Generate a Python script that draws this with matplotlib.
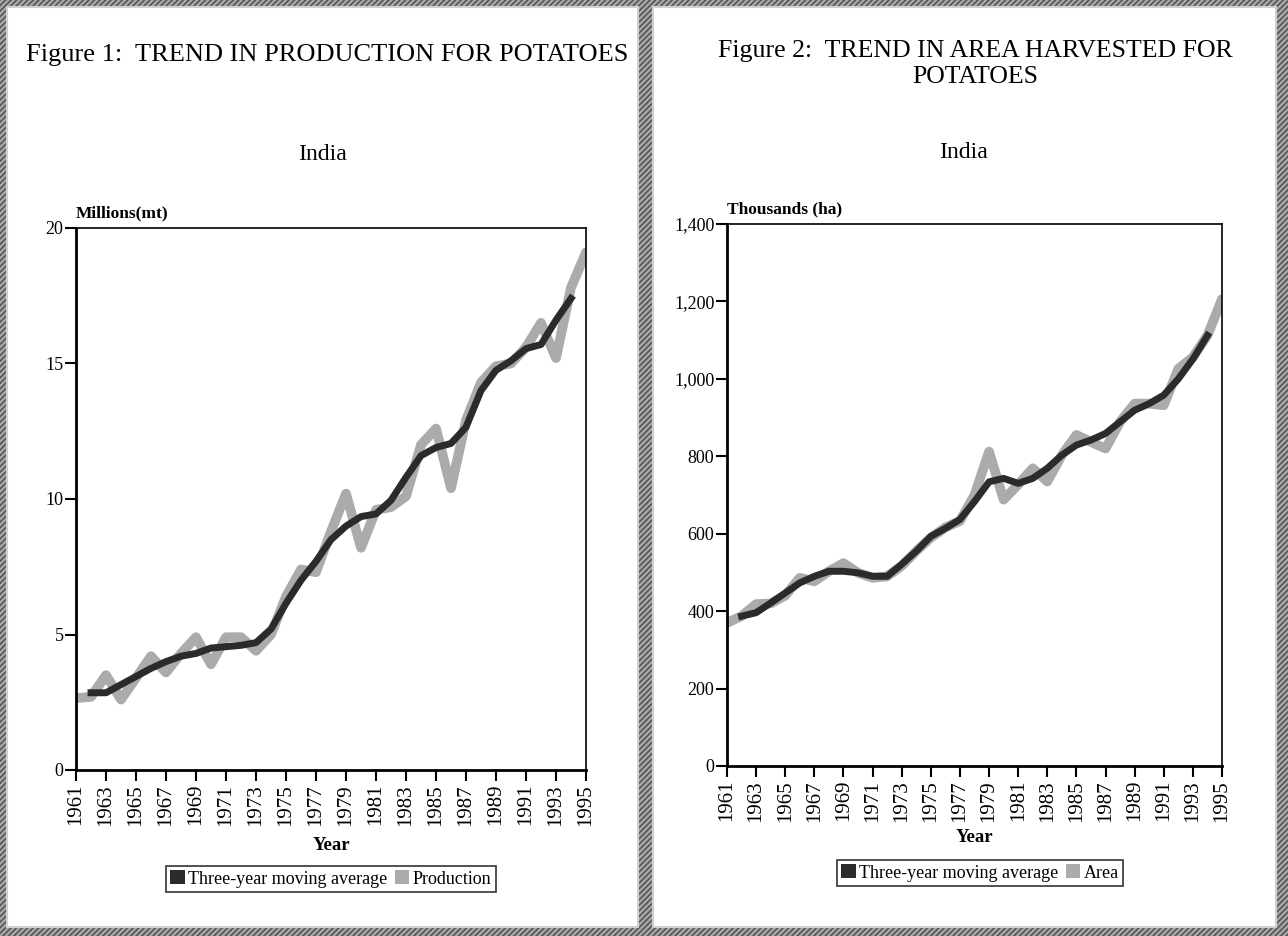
#!/usr/bin/env python
# -*- coding: utf-8 -*-

import numpy as np
import matplotlib
matplotlib.use('Agg')
import matplotlib.pyplot as plt
import matplotlib.ticker as ticker
from matplotlib.patches import Rectangle, Patch

plt.rcParams['font.family'] = ['Liberation Serif', 'DejaVu Serif']

# India, potatoes, FAO series 1961-1995
years = np.arange(1961, 1996)

# production, millions of metric tonnes
production = [2.65, 2.7, 3.5, 2.6, 3.4, 4.2, 3.6, 4.3, 4.9, 3.9,
              4.9, 4.9, 4.4, 5.0, 6.4, 7.4, 7.3, 8.8, 10.2, 8.2,
              9.6, 9.7, 10.1, 12.0, 12.6, 10.4, 12.9, 14.3, 14.9, 15.0,
              15.6, 16.5, 15.2, 17.8, 19.1]

# three-year moving average of production, 1962-1994
prod_ma = [2.85, 2.85, 3.15, 3.45, 3.75, 4.0, 4.2, 4.3, 4.5, 4.55,
           4.6, 4.7, 5.2, 6.15, 7.0, 7.7, 8.5, 9.0, 9.35, 9.45,
           9.95, 10.8, 11.6, 11.9, 12.05, 12.65, 14.0, 14.75, 15.1, 15.55,
           15.7, 16.6, 17.4]

# area harvested, thousands of hectares
area = [370, 387, 418, 420, 440, 486, 477, 503, 524, 499,
        486, 490, 517, 555, 590, 616, 633, 700, 812, 688,
        727, 769, 735, 803, 855, 837, 820, 889, 936, 936,
        932, 1026, 1056, 1112, 1206]

# three-year moving average of area, 1962-1994
area_ma = [387, 396, 421, 447, 473, 490, 503, 503, 499, 490,
           490, 521, 555, 593, 614, 637, 683, 734, 743, 730,
           743, 769, 803, 829, 842, 859, 889, 919, 936, 958,
           1000, 1051, 1112]

W, H = 1288, 936
dark = '#2b2b2b'
light = '#ababab'


def fx(px):
    return px / W


def fy(py):
    return 1 - py / H


def style_axes(a, ymax, ystep, fmt=None, pad=7):
    a.set_xlim(1961, 1995)
    a.set_ylim(0, ymax)
    a.set_xticks(np.arange(1961, 1996, 2))
    a.set_yticks(np.arange(0, ymax + 1, ystep))
    if fmt is not None:
        a.yaxis.set_major_formatter(fmt)
    a.tick_params(axis='x', direction='out', length=8, width=1.5,
                  labelrotation=90, labelsize=15, pad=2)
    a.tick_params(axis='y', direction='out', length=8, width=1.5,
                  labelsize=13, pad=1)
    a.spines['left'].set_linewidth(2)
    a.spines['bottom'].set_linewidth(2)
    a.spines['top'].set_linewidth(1.2)
    a.spines['right'].set_linewidth(1.2)
    a.set_facecolor('none')
    a.set_xlabel('Year', fontsize=13.5, fontweight='bold', labelpad=pad)


def main():
    fig = plt.figure(figsize=[W / 100, H / 100], dpi=100)

    # hatched frame behind the two white panels
    fig.patches.append(Rectangle((0, 0), 1, 1, transform=fig.transFigure,
                                 facecolor='#a6a6a6', edgecolor='#4a4a4a',
                                 hatch='//////', lw=0, zorder=-3))
    for x0, x1 in [(7, 638), (653, 1276)]:
        fig.patches.append(Rectangle((fx(x0), fy(927)), fx(x1 - x0), (927 - 7) / H,
                                     transform=fig.transFigure, facecolor='white',
                                     edgecolor='#d0d0d0', lw=1.5, zorder=-2))

    ax1 = fig.add_axes([fx(76), fy(770), fx(586 - 76), (770 - 228) / H])
    ax2 = fig.add_axes([fx(727), fy(766), fx(1222 - 727), (766 - 224) / H])

    # Figure 1: production
    ax1.plot(years, production, c=light, lw=7, solid_joinstyle='round',
             solid_capstyle='round', zorder=2)
    ax1.plot(years[1:-1], prod_ma, c=dark, lw=5, solid_joinstyle='round', zorder=3)
    style_axes(ax1, 20, 5, pad=8)
    ax1.text(0, 1.012, 'Millions(mt)', transform=ax1.transAxes, ha='left', va='bottom',
             fontsize=12.5, fontweight='bold')

    # Figure 2: area harvested
    ax2.plot(years, area, c=light, lw=7, solid_joinstyle='round',
             solid_capstyle='round', zorder=2)
    ax2.plot(years[1:-1], area_ma, c=dark, lw=5, solid_joinstyle='round', zorder=3)
    style_axes(ax2, 1400, 200, ticker.FuncFormatter(lambda v, p: f'{v:,.0f}'), pad=5)
    ax2.text(0, 1.012, 'Thousands (ha)', transform=ax2.transAxes, ha='left', va='bottom',
             fontsize=12.5, fontweight='bold')

    fig.text(fx(327), fy(55), 'Figure 1:  TREND IN PRODUCTION FOR POTATOES',
             ha='center', va='center', fontsize=19)
    fig.text(fx(322), fy(155), 'India', ha='center', va='center', fontsize=17)
    fig.text(fx(975), fy(64), 'Figure 2:  TREND IN AREA HARVESTED FOR\nPOTATOES',
             ha='center', va='center', fontsize=18.6, linespacing=1.2)
    fig.text(fx(963), fy(152), 'India', ha='center', va='center', fontsize=17)

    leg_kw = dict(ncols=2, fontsize=13, frameon=True, fancybox=False, edgecolor='black',
                  handlelength=0.8, handleheight=0.8, handletextpad=0.2,
                  columnspacing=0.4, borderpad=0.25, borderaxespad=0,
                  loc='center')
    h1 = [Patch(facecolor=dark, edgecolor='none'), Patch(facecolor=light, edgecolor='none')]
    l1 = fig.legend(h1, ['Three-year moving average', 'Production'],
                    bbox_to_anchor=(fx(331), fy(879)), **leg_kw)
    l1.get_frame().set_linewidth(1.2)
    l2 = fig.legend(h1, ['Three-year moving average', 'Area'],
                    bbox_to_anchor=(fx(980), fy(873)), **leg_kw)
    l2.get_frame().set_linewidth(1.2)

    fig.savefig('out.png', dpi=100)
    return True


if __name__ == "__main__":

    main()
